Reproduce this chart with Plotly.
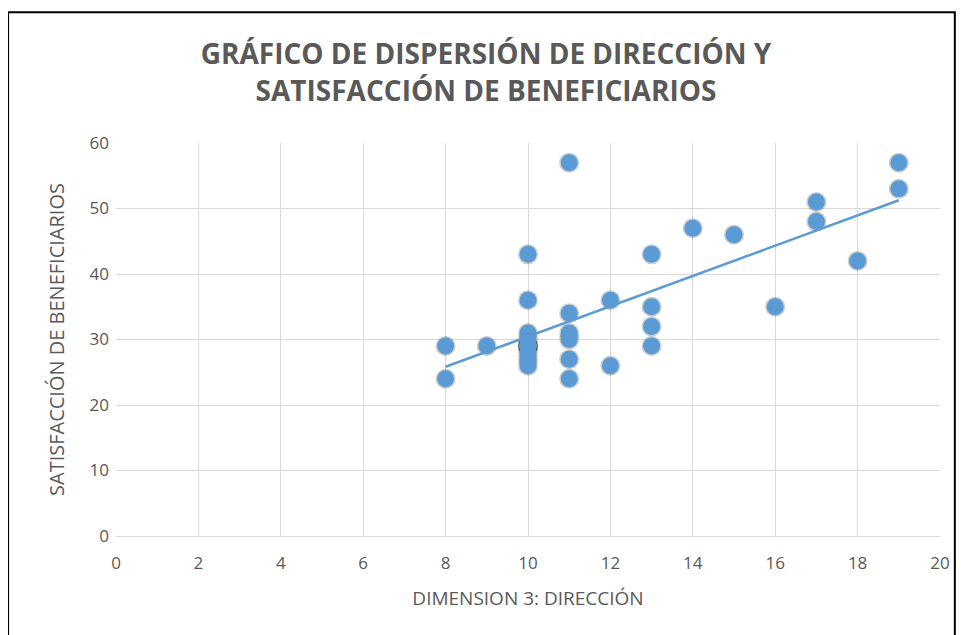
import numpy as np
import plotly.graph_objects as go

# Dimension 3 (direccion) vs satisfaccion de beneficiarios
direccion = [8, 8, 9, 10, 10, 10, 10, 10, 10, 10, 10, 10, 10, 10,
             11, 11, 11, 11, 11, 11, 12, 12, 13, 13, 13, 13,
             14, 15, 16, 17, 17, 18, 19, 19]
satisfaccion = [29, 24, 29, 43, 36, 31, 30, 29, 29, 29, 28, 27, 26, 29,
                57, 34, 31, 30, 27, 24, 36, 26, 43, 35, 32, 29,
                47, 46, 35, 51, 48, 42, 57, 53]

x_ticks = list(range(0, 21, 2))
y_ticks = list(range(0, 61, 10))

slope, intercept = np.polyfit(direccion, satisfaccion, 1)
trend_x = [min(direccion), max(direccion)]
trend_y = [slope * v + intercept for v in trend_x]

fig = go.Figure()

# soft shadow behind the markers
fig.add_trace(go.Scatter(
    x=direccion, y=satisfaccion, mode="markers",
    marker=dict(size=20, color="rgba(0,0,0,0.2)", line=dict(width=0)),
    hoverinfo="skip", showlegend=False,
))
fig.add_trace(go.Scatter(
    x=direccion, y=satisfaccion, mode="markers",
    marker=dict(size=17, color="#5B9BD5", line=dict(width=0)),
    showlegend=False,
))
fig.add_trace(go.Scatter(
    x=trend_x, y=trend_y, mode="lines",
    line=dict(color="#5B9BD5", width=2.5),
    showlegend=False,
))

gray = "#595959"
fig.update_layout(
    width=956, height=627,
    paper_bgcolor="white", plot_bgcolor="white",
    margin=dict(l=108, r=24, t=135, b=99),
    font=dict(family="Open Sans, sans-serif", color=gray),
    title=dict(
        text="<b>GRÁFICO DE DISPERSIÓN DE DIRECCIÓN Y<br>SATISFACCIÓN DE BENEFICIARIOS</b>",
        x=0.5, xanchor="center", y=0.91, yanchor="top",
        font=dict(size=28, color=gray, family="Open Sans, sans-serif"),
    ),
    xaxis=dict(
        range=[0, 20], tickvals=x_ticks, showgrid=True, gridcolor="#D9D9D9",
        zeroline=False, showline=True, linecolor="#D9D9D9",
        tickfont=dict(size=17, color=gray), ticks="", ticklabelstandoff=12,
        title=dict(text="DIMENSION 3: DIRECCIÓN", font=dict(size=19, color=gray), standoff=18),
    ),
    yaxis=dict(
        range=[0, 60], tickvals=y_ticks, showgrid=True, gridcolor="#D9D9D9",
        zeroline=False, showline=False,
        tickfont=dict(size=17, color=gray), ticks="", ticklabelstandoff=6,
        title=dict(text="SATISFACCIÓN DE BENEFICIARIOS", font=dict(size=20, color=gray), standoff=19),
    ),
    shapes=[dict(
        type="rect", xref="paper", yref="paper",
        x0=-0.131, x1=1.018, y0=-0.3, y1=1.333,
        line=dict(color="black", width=2), fillcolor="rgba(0,0,0,0)",
    )],
)

fig.write_html("out.html")
